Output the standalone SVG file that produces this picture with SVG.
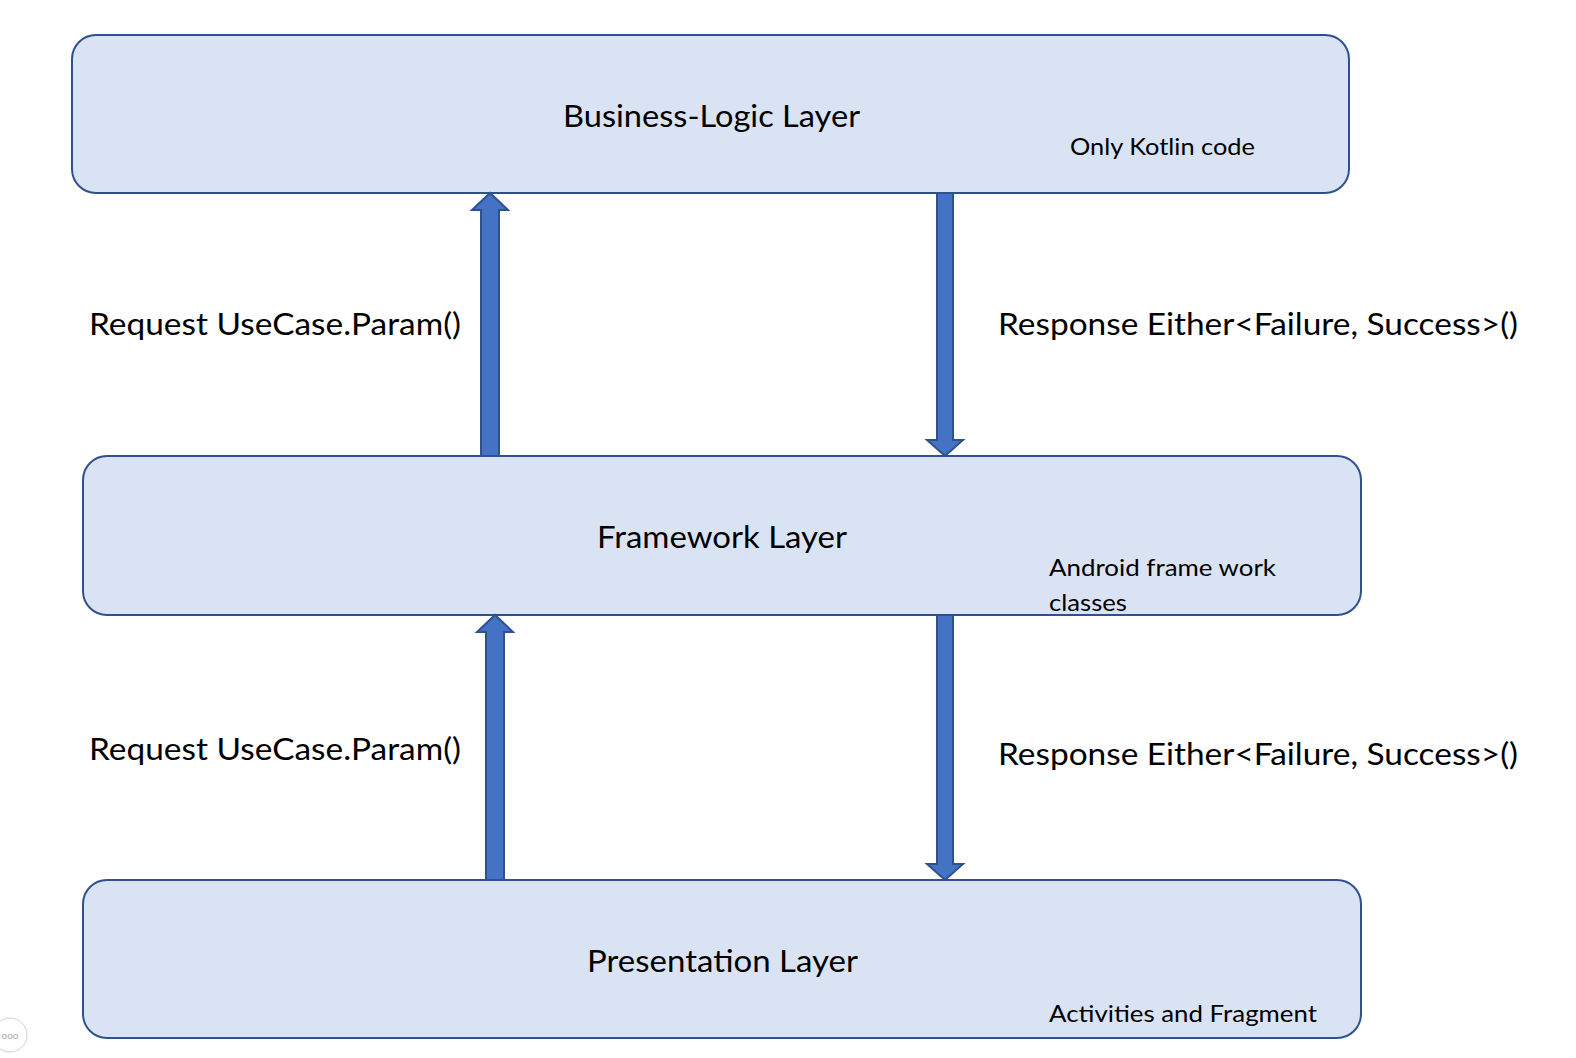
<svg xmlns="http://www.w3.org/2000/svg" width="1576" height="1058" viewBox="0 0 1576 1058">
<style>
.box{fill:#DAE3F3;stroke:#2F528F;stroke-width:2}
.arr{fill:#4472C4;stroke:#2F528F;stroke-width:2;stroke-linejoin:miter}
.t{font-family:Lato,"Open Sans","Liberation Sans",sans-serif;fill:#000}
.big{font-size:30px}
.sm{font-size:23px}
.lbl{font-size:30px}
</style>
<rect width="1576" height="1058" fill="#fff"/>
<g id="business-logic">
<rect class="box" x="72" y="35" width="1277" height="158" rx="24" ry="24"/>
<text class="t big" x="563" y="127" textLength="297" lengthAdjust="spacingAndGlyphs">Business-Logic Layer</text>
<text class="t sm" x="1070" y="155" textLength="185" lengthAdjust="spacingAndGlyphs">Only Kotlin code</text>
</g>
<g id="framework">
<rect class="box" x="83" y="456" width="1278" height="159" rx="24" ry="24"/>
<text class="t big" x="597" y="548" textLength="250" lengthAdjust="spacingAndGlyphs">Framework Layer</text>
<text class="t sm" x="1049" y="576" textLength="227" lengthAdjust="spacingAndGlyphs">Android frame work</text>
<text class="t sm" x="1049" y="611" textLength="78" lengthAdjust="spacingAndGlyphs">classes</text>
</g>
<g id="presentation">
<rect class="box" x="83" y="880" width="1278" height="158" rx="24" ry="24"/>
<text class="t big" x="587" y="972" textLength="271" lengthAdjust="spacingAndGlyphs">Presentation Layer</text>
<text class="t sm" x="1049" y="1022" textLength="268" lengthAdjust="spacingAndGlyphs">Activities and Fragment</text>
</g>
<g id="connectors">
<polygon class="arr" points="481,456 481,210 472,210 490,193 508,210 499,210 499,456"/>
<polygon class="arr" points="937,193 953,193 953,440 963,440 945,456 927,440 937,440"/>
<polygon class="arr" points="486,880 486,632 477,632 495,615 513,632 504,632 504,880"/>
<polygon class="arr" points="937,615 953,615 953,864 963,864 945,880 927,864 937,864"/>
<text class="t lbl" x="89" y="335" textLength="372" lengthAdjust="spacingAndGlyphs">Request UseCase.Param()</text>
<text class="t lbl" x="998" y="335" textLength="520" lengthAdjust="spacingAndGlyphs">Response Either&lt;Failure, Success&gt;()</text>
<text class="t lbl" x="89" y="760" textLength="372" lengthAdjust="spacingAndGlyphs">Request UseCase.Param()</text>
<text class="t lbl" x="998" y="765" textLength="520" lengthAdjust="spacingAndGlyphs">Response Either&lt;Failure, Success&gt;()</text>
</g>
<g id="menu-icon">
<circle cx="10" cy="1035" r="17" fill="#fff" stroke="#d0d0d0" stroke-width="1"/>
<text x="10" y="1039" font-family="Lato,sans-serif" font-size="10" fill="#aaa" text-anchor="middle">ooo</text>
</g>
</svg>
